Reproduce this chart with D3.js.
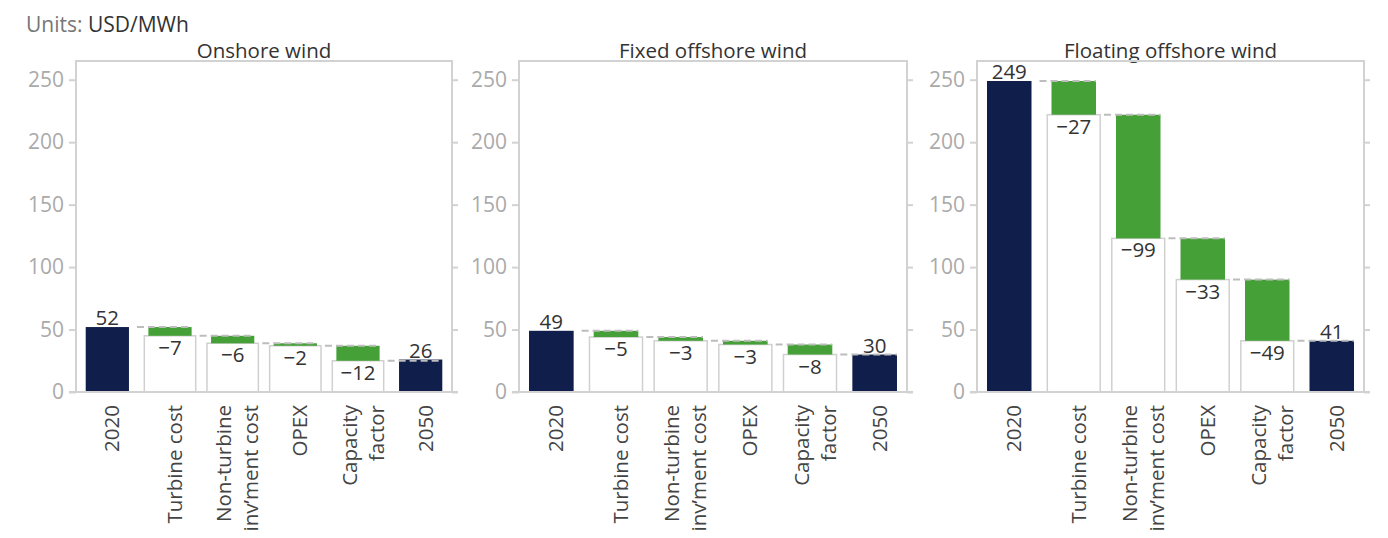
<!DOCTYPE html>
<html>
<head>
<meta charset="utf-8">
<script src="https://cdn.jsdelivr.net/npm/d3@7/dist/d3.min.js"></script>
<style>
  html, body { margin: 0; padding: 0; background: #fff; }
  svg { display: block; font-family: "Open Sans", "DejaVu Sans", sans-serif; }
</style>
</head>
<body>
<svg id="chart" width="1388" height="538"></svg>
<script>
// ---- data ----
const categories = ["2020", "Turbine cost", "Non-turbine\ninv’ment cost", "OPEX", "Capacity\nfactor", "2050"];
const panelTitles = ["Onshore wind", "Fixed offshore wind", "Floating offshore wind"];
const onshoreValues = [52, -7, -6, -2, -12, 26];
const fixedOffshoreValues = [49, -5, -3, -3, -8, 30];
const floatingOffshoreValues = [249, -27, -99, -33, -49, 41];
const yTicks = [0, 50, 100, 150, 200, 250];
const unitsLabel = ["Units: ", "USD/MWh"];

// ---- layout ----
const svg = d3.select("#chart");
const frameTop = 61, frameBottom = 392;
const panelX = [[76, 452], [519, 907], [977, 1364]];
const seriesList = [onshoreValues, fixedOffshoreValues, floatingOffshoreValues];

const NAVY = "#0f1e4a", GREEN = "#44a037", FRAME = "#d2d2d2";
const FS = 20.5;

const y = d3.scaleLinear().domain([0, 265]).range([frameBottom, frameTop]);

// units label
const ut = svg.append("text").attr("x", 26).attr("y", 32).attr("font-size", 21);
ut.append("tspan").attr("fill", "#777").text(unitsLabel[0]);
ut.append("tspan").attr("fill", "#333").text(unitsLabel[1]);

seriesList.forEach((vals, pi) => {
  const [x0, x1] = panelX[pi];
  const x = d3.scaleBand().domain(categories).range([x0, x1]).paddingInner(0.31).paddingOuter(0.155);
  const bw = x.bandwidth();
  const step = x.step();
  const wideW = step * 0.82;
  const g = svg.append("g");

  // title
  g.append("text").attr("x", (x0 + x1) / 2).attr("y", 58)
    .attr("text-anchor", "middle").attr("font-size", FS).attr("fill", "#333")
    .attr("font-weight", 500)
    .text(panelTitles[pi]);

  // left axis
  const left = g.append("g").attr("transform", `translate(${x0},0)`)
    .call(d3.axisLeft(y).tickValues(yTicks).tickSize(7).tickPadding(5));
  left.select(".domain").remove();
  left.selectAll(".tick line").attr("stroke", FRAME).attr("stroke-width", 2);
  left.selectAll(".tick text").attr("fill", "#aaa").attr("font-size", 21)
    .attr("font-family", "Open Sans, DejaVu Sans, sans-serif");

  // right axis ticks (no labels)
  const right = g.append("g").attr("transform", `translate(${x1},0)`)
    .call(d3.axisRight(y).tickValues(yTicks).tickSize(6).tickFormat(""));
  right.select(".domain").remove();
  right.selectAll(".tick line").attr("stroke", FRAME).attr("stroke-width", 2);

  // frame
  g.append("rect").attr("x", x0).attr("y", frameTop)
    .attr("width", x1 - x0).attr("height", frameBottom - frameTop)
    .attr("fill", "none").attr("stroke", FRAME).attr("stroke-width", 2);

  // waterfall
  const n = vals.length;
  let running = vals[0];
  const bars = [];
  const connectors = [];
  const labels = [];
  vals.forEach((v, i) => {
    const c = categories[i];
    const cx = x(c) + bw / 2;
    if (i === 0 || i === n - 1) {
      bars.push({ type: "total", c, lo: 0, hi: v });
      labels.push({ cx, yv: v, text: String(v), above: true });
      if (i === n - 1) {
        const pcx = x(categories[i - 1]) + bw / 2;
        connectors.push({ xa: pcx + bw / 2 + 8, xb: cx + bw / 2, level: running });
      }
    } else {
      const start = running, end = running + v;
      bars.push({ type: "base", c, lo: 0, hi: end });
      bars.push({ type: "step", c, lo: end, hi: start });
      const pcx = x(categories[i - 1]) + bw / 2;
      connectors.push({ xa: pcx + bw / 2 + 8, xb: cx + bw / 2, level: start });
      labels.push({ cx, yv: end, text: "−" + Math.abs(v), above: false });
      running = end;
    }
  });

  g.selectAll("rect.base").data(bars.filter(b => b.type === "base")).join("rect")
    .attr("class", "base")
    .attr("x", d => x(d.c) + bw / 2 - wideW / 2).attr("width", wideW)
    .attr("y", d => y(d.hi)).attr("height", d => y(d.lo) - y(d.hi))
    .attr("fill", "#fff").attr("stroke", "#d0d0d0").attr("stroke-width", 1.5);

  g.selectAll("rect.step").data(bars.filter(b => b.type === "step")).join("rect")
    .attr("class", "step")
    .attr("x", d => x(d.c)).attr("width", bw)
    .attr("y", d => y(d.hi)).attr("height", d => y(d.lo) - y(d.hi))
    .attr("fill", GREEN);

  g.selectAll("rect.total").data(bars.filter(b => b.type === "total")).join("rect")
    .attr("class", "total")
    .attr("x", d => x(d.c)).attr("width", bw)
    .attr("y", d => y(d.hi)).attr("height", d => y(d.lo) - y(d.hi))
    .attr("fill", NAVY);

  g.selectAll("line.conn").data(connectors).join("line")
    .attr("class", "conn")
    .attr("x1", d => d.xa).attr("x2", d => d.xb)
    .attr("y1", d => y(d.level)).attr("y2", d => y(d.level))
    .attr("stroke", "#bdbdbd").attr("stroke-width", 2).attr("stroke-dasharray", "7,4");

  // bottom axis line
  g.append("line").attr("x1", x0 - 7).attr("x2", x1 + 6)
    .attr("y1", frameBottom).attr("y2", frameBottom)
    .attr("stroke", FRAME).attr("stroke-width", 2);

  // value labels
  g.selectAll("text.val").data(labels).join("text")
    .attr("class", "val")
    .attr("x", d => d.cx)
    .attr("y", d => d.above ? y(d.yv) - 2 : y(d.yv) + 19)
    .attr("text-anchor", "middle").attr("font-size", FS).attr("fill", "#333")
    .text(d => d.text);

  // category labels (rotated)
  const cl = g.selectAll("g.cat").data(categories).join("g")
    .attr("class", "cat")
    .attr("transform", d => `translate(${x(d) + bw / 2},405) rotate(-90)`);
  cl.each(function (d) {
    const lines = d.split("\n");
    const t = d3.select(this).append("text")
      .attr("text-anchor", "end").attr("font-size", FS).attr("fill", "#444");
    const mid = 12, gap = 27;
    lines.forEach((ln, li) => {
      const off = mid + (li - (lines.length - 1) / 2) * gap;
      t.append("tspan").attr("x", 0).attr("y", off).text(ln);
    });
  });
});
</script>
</body>
</html>
